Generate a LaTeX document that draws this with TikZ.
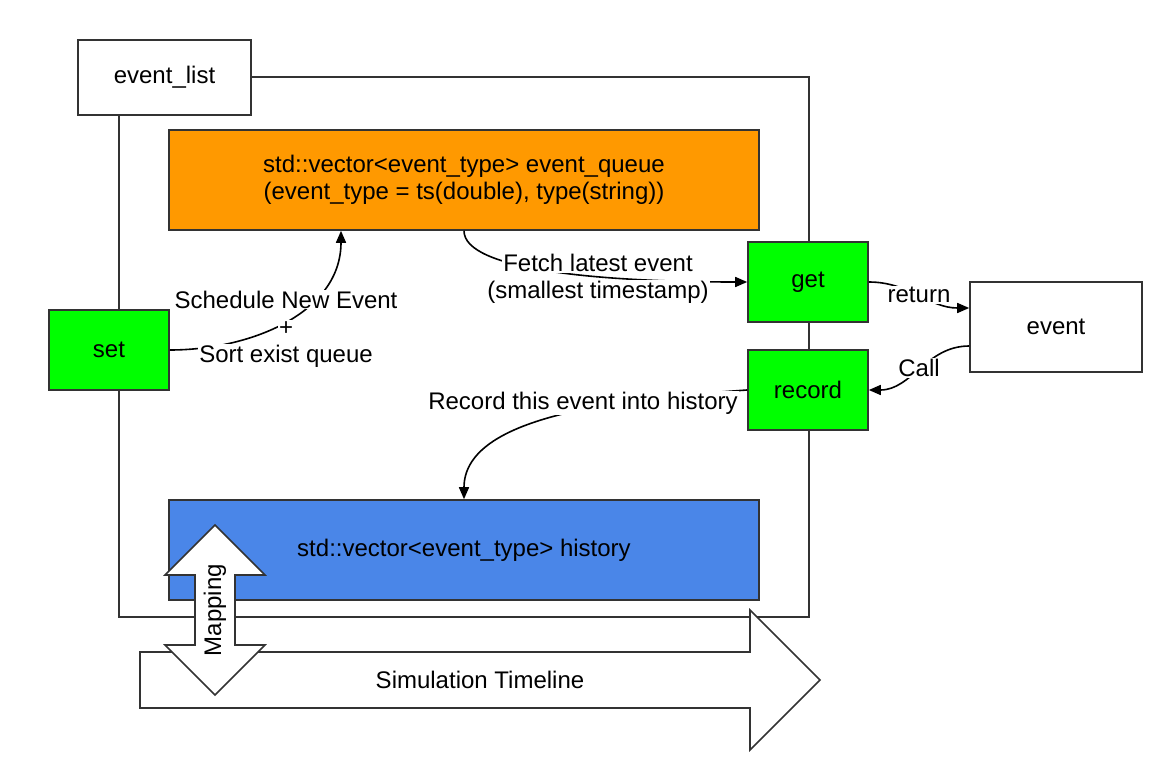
\documentclass[tikz,border=0pt]{standalone}
\usepackage{fontspec}
\setmainfont{Liberation Sans}
\usetikzlibrary{arrows.meta}
\definecolor{qorange}{HTML}{FF9900}
\definecolor{hblue}{HTML}{4A86E8}
\definecolor{fgreen}{HTML}{00FF00}
\definecolor{edge}{HTML}{333333}
\newcommand{\wline}[1]{{\setlength{\fboxsep}{1pt}\colorbox{white}{#1}}}

\begin{document}
\begin{tikzpicture}[x=1pt, y=-1pt, font=\fontsize{24}{27}\selectfont,
    main/.style = {draw=edge, line width=1.6pt, fill=white, align=center, inner sep=0pt},
    op/.style = {main, fill=fgreen, minimum width=120pt, minimum height=80pt},
    link/.style = {line width=1.6pt, -{Triangle[length=12pt,width=10pt]}},
    lbl/.style = {inner sep=0pt, align=center}]
    \useasboundingbox (0,0) rectangle (1162,770);
    % frame round the event list
    \draw[edge, line width=1.6pt] (119,77) rectangle (809,617);
    \node[main, minimum width=173pt, minimum height=75pt] (list) at (164.5,77.5) {event\_list};
    \node[main, fill=qorange, minimum width=590pt, minimum height=100pt] (queue) at (464,180)
        {std::vector<event\_type> event\_queue\\ (event\_type = ts(double), type(string))};
    \node[main, fill=hblue, minimum width=590pt, minimum height=100pt] (history) at (464,550)
        {std::vector<event\_type> history};
    \node[op] (set)    at (109,350) {set};
    \node[op] (get)    at (808,282) {get};
    \node[op] (record) at (808,390) {record};
    \node[main, minimum width=172pt, minimum height=90pt] (event) at (1056,327) {event};
    % connectors
    \draw[link] (set.east) to[out=0, in=-90]
        node[lbl, yshift=-8pt] {\wline{Schedule New Event}\\\wline{+}\\\wline{Sort exist queue}} (341,0 |- queue.south);
    \draw[link] (464,0 |- queue.south) .. controls (464,270) and (600,282) .. (get.west);
    \node[lbl] (fetch) at (598,279) {\wline{Fetch latest event}\\\wline{(smallest timestamp)}};
    \draw[link] (get.east) to[out=0, in=180] node[lbl] {\wline{return}} ([yshift=19pt]event.west);
    \draw[link] ([yshift=-19pt]event.west) to[out=180, in=0] node[lbl] {\wline{Call}} (record.east);
    \draw[link] (record.west) .. controls (600,400) and (464,420) .. (464,0 |- history.north);
    \node[lbl] (recordlbl) at (583,403) {\wline{Record this event into history}};
    % timeline
    \draw[main] (140,652) -- (750,652) -- (750,610) -- (820,680) -- (750,750) -- (750,708) -- (140,708) -- cycle;
    \node (timeline) at (480,680) {Simulation Timeline};
    % mapping
    \draw[main] (215,525) -- (265,575) -- (235,575) -- (235,645) -- (265,645) -- (215,695)
        -- (165,645) -- (195,645) -- (195,575) -- (165,575) -- cycle;
    \node[rotate=90] (mapping) at (215,610) {Mapping};
\end{tikzpicture}
\end{document}
